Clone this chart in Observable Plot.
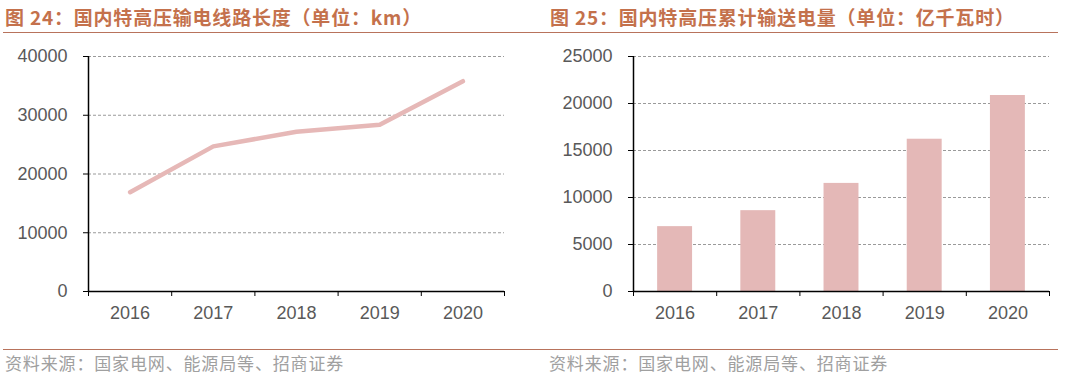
<!DOCTYPE html>
<html>
<head>
<meta charset="utf-8">
<script src="https://cdn.jsdelivr.net/npm/d3@7"></script>
<script src="https://cdn.jsdelivr.net/npm/@observablehq/plot@0.6"></script>
<style>
  html, body { margin: 0; padding: 0; background: #fff; }
  #page { position: relative; width: 1080px; height: 375px; overflow: hidden; background: #fff; }
  .title { position: absolute; top: 5px; font-family: "Noto Sans CJK SC", sans-serif; font-weight: bold; font-size: 19px; letter-spacing: 0.8px; color: #c4714c; white-space: nowrap; line-height: 24px; }
  .rule { position: absolute; height: 0; border-top: 1.6px solid #b8735c; }
  .source { position: absolute; top: 351px; font-family: "Noto Sans CJK SC", sans-serif; font-size: 17px; letter-spacing: 0.85px; color: #a0a0a0; white-space: nowrap; line-height: 24px; }
  .chart { position: absolute; top: 40px; }
  .chart svg { display: block; }
</style>
</head>
<body>
<div id="page">
  <div class="title" style="left:5px;">图 24：国内特高压输电线路长度（单位：km）</div>
  <div class="title" style="left:550px;">图 25：国内特高压累计输送电量（单位：亿千瓦时）</div>
  <div class="rule" style="left:3px; width:537px; top:32px;"></div>
  <div class="rule" style="left:540px; width:518px; top:32px;"></div>
  <div class="chart" id="left" style="left:0px;"></div>
  <div class="chart" id="right" style="left:540px;"></div>
  <div class="rule" style="left:3px; width:537px; top:349px;"></div>
  <div class="rule" style="left:540px; width:518px; top:349px;"></div>
  <div class="source" style="left:5px;">资料来源：国家电网、能源局等、招商证券</div>
  <div class="source" style="left:549px;">资料来源：国家电网、能源局等、招商证券</div>
</div>
<script>
// ---- data ----
const years = [2016, 2017, 2018, 2019, 2020];
const lineLengthKm = [16900, 24700, 27200, 28400, 35800];
const transmissionTWh = [6900, 8600, 11500, 16200, 20850];
const leftYTicks = [0, 10000, 20000, 30000, 40000];
const rightYTicks = [0, 5000, 10000, 15000, 20000, 25000];

const lineData = years.map((year, i) => ({year, value: lineLengthKm[i]}));
const barData = years.map((year, i) => ({year, value: transmissionTWh[i]}));

const tickColor = "#000";
const labelColor = "#595959";
const gridColor = "#9a9a9a";
const fontFamily = "'Liberation Sans', Arial, sans-serif";
const xDomain = [years[0] - 0.5, years[years.length - 1] + 0.5];
const xBoundaries = d3.range(xDomain[0], xDomain[1] + 0.01, 1);
const halfBar = 0.21;

function commonMarks(yTicks) {
  return [
    Plot.gridY(yTicks.slice(1), {stroke: gridColor, strokeOpacity: 1, strokeDasharray: "3,2", strokeWidth: 1}),
    Plot.axisY({ticks: yTicks, tickSize: 5, tickPadding: 16, tickFormat: d => String(d), stroke: tickColor, fill: labelColor, fontSize: 18, label: null}),
    Plot.axisX({ticks: xBoundaries, tickSize: 5, tickFormat: () => "", stroke: tickColor, label: null}),
    Plot.axisX({ticks: years, tickSize: 0, tickPadding: 15, tickFormat: d => String(d), fill: labelColor, fontSize: 18, label: null})
  ];
}

const left = Plot.plot({
  width: 540, height: 290,
  marginLeft: 88, marginRight: 36, marginTop: 16, marginBottom: 39,
  style: {fontFamily, background: "transparent", overflow: "visible"},
  x: {type: "linear", domain: xDomain},
  y: {domain: [leftYTicks[0], leftYTicks[leftYTicks.length - 1]]},
  marks: [
    ...commonMarks(leftYTicks),
    Plot.line(lineData, {x: "year", y: "value", stroke: "#e6b8b7", strokeWidth: 4.5, strokeLinecap: "round", strokeLinejoin: "round"}),
    Plot.ruleX([xDomain[0]], {stroke: tickColor, strokeWidth: 1.5}),
    Plot.ruleY([0], {stroke: tickColor, strokeWidth: 1.5})
  ]
});
document.getElementById("left").append(left);

const right = Plot.plot({
  width: 540, height: 290,
  marginLeft: 93, marginRight: 31, marginTop: 16, marginBottom: 39,
  style: {fontFamily, background: "transparent", overflow: "visible"},
  x: {type: "linear", domain: xDomain},
  y: {domain: [rightYTicks[0], rightYTicks[rightYTicks.length - 1]]},
  marks: [
    ...commonMarks(rightYTicks),
    Plot.rectY(barData, {x1: d => d.year - halfBar, x2: d => d.year + halfBar, y: "value", fill: "#e4b8b7"}),
    Plot.ruleX([xDomain[0]], {stroke: tickColor, strokeWidth: 1.5}),
    Plot.ruleY([0], {stroke: tickColor, strokeWidth: 1.5})
  ]
});
document.getElementById("right").append(right);
</script>
</body>
</html>
